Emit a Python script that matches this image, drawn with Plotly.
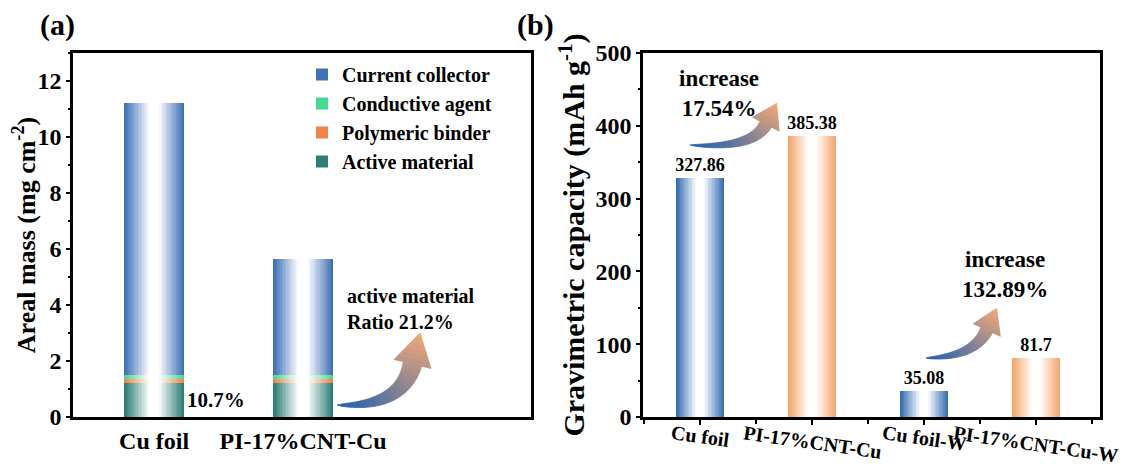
import math
import plotly.graph_objects as go

# ---------------- data ----------------
# panel (a): areal mass of electrode components (mg cm^-2)
a_categories = ["Cu foil", "PI-17%CNT-Cu"]
a_active = [1.20, 1.20]
a_binder = [0.15, 0.15]
a_agent = [0.15, 0.15]
a_collector = [9.71, 4.16]
a_segment_names = ["Active material", "Polymeric binder", "Conductive agent", "Current collector"]

# panel (b): gravimetric capacity (mAh g^-1)
b_categories = ["Cu foil", "PI-17%CNT-Cu", "Cu foil-W", "PI-17%CNT-Cu-W"]
b_capacity = [327.86, 385.38, 35.08, 81.7]
b_increase = ["17.54%", "132.89%"]

# ---------------- style ----------------
FONT = "Liberation Serif"
OFF = 8                      # default page (body) margin in the browser
W, H = 1143 - OFF, 466 - OFF  # figure size so it fills the window
A_COLORS = ["#267a70", "#ee7f45", "#3fd98c", "#3b6db4"]
B_BLUE, B_ORANGE = "#2c67ae", "#f3a265"
WIDTH_A, WIDTH_B = 0.40, 0.43
NLAYER = 18


def fx(px):   # window pixel -> paper x
    return (px - OFF) / W


def fy(py):   # window pixel -> paper y
    return 1 - (py - OFF) / H


def hex_rgb(c):
    return int(c[1:3], 16), int(c[3:5], 16), int(c[5:7], 16)


def mix(c1, c2, t):
    r1, g1, b1 = hex_rgb(c1)
    r2, g2, b2 = hex_rgb(c2)
    return "rgb(%d,%d,%d)" % (round(r1 + (r2 - r1) * t), round(g1 + (g2 - g1) * t), round(b1 + (b2 - b1) * t))


def layers(n):
    for k in range(n):
        yield k, 1 - k / n, min(1.0, (k + 0.5) / n / 0.85)


fig = go.Figure()

# ---- panel (a): stacked gradient bars ----
xa = list(range(len(a_categories)))
segments = [a_active, a_binder, a_agent, a_collector]
base = [0.0] * len(xa)
for si, (name, vals, col) in enumerate(zip(a_segment_names, segments, A_COLORS)):
    for k, fw, t in layers(NLAYER):
        fig.add_trace(go.Bar(
            x=xa, y=vals, base=base, width=WIDTH_A * fw,
            marker=dict(color=mix(col, "#ffffff", t), line=dict(width=0)),
            name=name, showlegend=(k == 0), legendrank=10 - si,
            hoverinfo="skip", xaxis="x", yaxis="y"))
    base = [b + v for b, v in zip(base, vals)]

totals = base
ratios = ["%.1f%%" % (a / tot * 100) for a, tot in zip(a_active, totals)]

# ---- panel (b): gradient bars ----
xb = list(range(len(b_categories)))
b_cols = [B_BLUE, B_ORANGE, B_BLUE, B_ORANGE]
for k, fw, t in layers(NLAYER):
    fig.add_trace(go.Bar(
        x=xb, y=b_capacity, width=WIDTH_B * fw,
        marker=dict(color=[mix(c, "#ffffff", t) for c in b_cols], line=dict(width=0)),
        text=["%g" % v for v in b_capacity] if k == 0 else None,
        textposition="outside", constraintext="none", cliponaxis=False,
        textfont=dict(family=FONT, size=18, color="black", weight="bold"),
        showlegend=False, hoverinfo="skip", xaxis="x2", yaxis="y2"))


# ---- decorative gradient arrows (window pixel geometry -> paper) ----
def P(pt):
    return "%.5f,%.5f" % (fx(pt[0]), fy(pt[1]))


def arrow(p0, p2, tip, head_half, body_w, L, c0="#1f5fae", c1="#f4a874", m=26):
    dx, dy = tip[0] - p2[0], tip[1] - p2[1]
    d = math.hypot(dx, dy)
    ux, uy = dx / d, dy / d
    p1 = (p2[0] - ux * L, p2[1] - uy * L)
    rows = []
    for i in range(m + 1):
        s = i / m
        x = (1 - s) ** 2 * p0[0] + 2 * (1 - s) * s * p1[0] + s * s * p2[0]
        y = (1 - s) ** 2 * p0[1] + 2 * (1 - s) * s * p1[1] + s * s * p2[1]
        tx = 2 * (1 - s) * (p1[0] - p0[0]) + 2 * s * (p2[0] - p1[0])
        ty = 2 * (1 - s) * (p1[1] - p0[1]) + 2 * s * (p2[1] - p1[1])
        tl = math.hypot(tx, ty)
        nx, ny = -ty / tl, tx / tl
        w = body_w / 2 * (s ** 0.65)
        rows.append(((x + nx * w, y + ny * w), (x - nx * w, y - ny * w)))
    out = []
    for i in range(m):
        a1, b1 = rows[i]
        a2, b2 = rows[i + 1]
        col = mix(c0, c1, 0.72 * (i + 0.5) / m)
        out.append(dict(type="path", xref="paper", yref="paper", layer="above",
                        path="M%s L%s L%s L%s Z" % (P(a1), P(a2), P(b2), P(b1)),
                        fillcolor=col, line=dict(color=col, width=0.8)))
    px_, py_ = -uy, ux
    nh = 6
    for j in range(nh):
        u0, u1 = j / nh, (j + 1) / nh
        h0, h1 = head_half * (1 - u0), head_half * (1 - u1)
        c0x, c0y = p2[0] + dx * u0, p2[1] + dy * u0
        c1x, c1y = p2[0] + dx * u1, p2[1] + dy * u1
        col = mix(c0, c1, 0.72 + 0.28 * (j + 0.5) / nh)
        pts = [(c0x + px_ * h0, c0y + py_ * h0), (c1x + px_ * h1, c1y + py_ * h1),
               (c1x - px_ * h1, c1y - py_ * h1), (c0x - px_ * h0, c0y - py_ * h0)]
        out.append(dict(type="path", xref="paper", yref="paper", layer="above",
                        path="M%s L%s L%s L%s Z" % tuple(P(p) for p in pts),
                        fillcolor=col, line=dict(color=col, width=0.8)))
    return out


shapes = []
shapes += arrow((337, 405), (412.5, 364), (420, 333), 19, 19, 45)
shapes += arrow((690, 145), (765.8, 124.2), (776.7, 103.3), 15, 13, 28)
shapes += arrow((926, 358), (986.7, 330), (996.7, 308.3), 15, 13, 30)

bold = dict(family=FONT, color="black", weight="bold")
annotations = [
    dict(text="(a)", x=fx(57), y=fy(25), xref="paper", yref="paper", showarrow=False,
         xanchor="center", yanchor="middle", font=dict(bold, size=30)),
    dict(text="(b)", x=fx(535), y=fy(25), xref="paper", yref="paper", showarrow=False,
         xanchor="center", yanchor="middle", font=dict(bold, size=30)),
    dict(text=ratios[0], x=0.21, y=0.6, xref="x", yref="y", xanchor="left", yanchor="middle",
         showarrow=False, font=dict(bold, size=21)),
    dict(text="active material<br>Ratio " + ratios[1], x=1.28, y=3.85, xref="x", yref="y",
         xanchor="left", yanchor="middle", align="left", showarrow=False, font=dict(bold, size=20)),
    dict(text="increase<br>" + b_increase[0], x=0.17, y=445, xref="x2", yref="y2",
         xanchor="center", yanchor="middle", showarrow=False, align="center",
         font=dict(bold, size=23)),
    dict(text="increase<br>" + b_increase[1], x=2.72, y=196, xref="x2", yref="y2",
         xanchor="center", yanchor="middle", showarrow=False, align="center",
         font=dict(bold, size=23)),
]
for i, c in enumerate(b_categories):
    annotations.append(dict(text=c, x=i, xref="x2", y=fy(419), yref="paper",
                            xanchor="center", yanchor="top", textangle=8, showarrow=False,
                            font=dict(bold, size=20)))

axis_common = dict(showline=True, linecolor="black", linewidth=2.5, mirror=True,
                   showgrid=False, zeroline=False, tickcolor="black", tickwidth=2,
                   automargin=False)
ydom = [fy(417), fy(53)]

fig.update_layout(
    width=W, height=H, margin=dict(l=0, r=0, t=0, b=0, autoexpand=False),
    paper_bgcolor="white", plot_bgcolor="white",
    barmode="overlay", bargap=0,
    font=dict(family=FONT, color="black", size=18),
    showlegend=True,
    legend=dict(x=fx(302), y=fy(55), xanchor="left", yanchor="top",
                bgcolor="rgba(0,0,0,0)", font=dict(bold, size=20), itemwidth=30),
    xaxis=dict(axis_common, domain=[fx(73), fx(531)], range=[-0.544, 2.53],
               tickmode="array", tickvals=xa, ticktext=a_categories, ticks="",
               tickfont=dict(bold, size=24), anchor="y"),
    yaxis=dict(axis_common, domain=ydom, range=[0, 13], dtick=2, ticks="outside", ticklen=4,
               minor=dict(dtick=1, ticks="outside", ticklen=2, tickwidth=2, tickcolor="black"),
               tickfont=dict(bold, size=24), anchor="x",
               title=dict(text="Areal mass (mg cm<sup>-2</sup>)", font=dict(bold, size=26), standoff=2)),
    xaxis2=dict(axis_common, domain=[fx(643), fx(1100)], range=[-0.51, 3.57],
                tickmode="linear", tick0=0, dtick=1, ticks="outside", ticklen=5,
                showticklabels=False, anchor="y2",
                minor=dict(tickmode="linear", tick0=0, dtick=0.5, ticks="outside", ticklen=4,
                           tickwidth=2, tickcolor="black")),
    yaxis2=dict(axis_common, domain=ydom, range=[0, 500], dtick=100, ticks="outside", ticklen=4,
                minor=dict(dtick=50, ticks="outside", ticklen=2, tickwidth=2, tickcolor="black"),
                tickfont=dict(bold, size=24), anchor="x2",
                title=dict(text="Gravimetric capacity (mAh g<sup>-1</sup>)", font=dict(bold, size=30),
                           standoff=2)),
    shapes=shapes,
    annotations=annotations,
)

fig.write_html("out.html")
